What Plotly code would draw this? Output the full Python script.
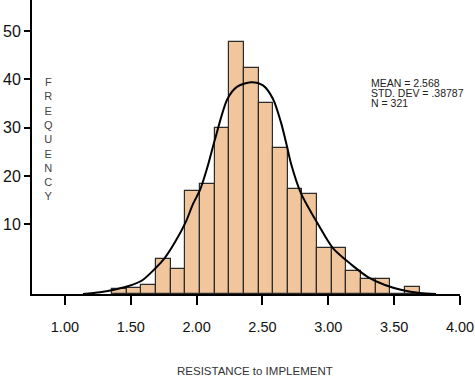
import plotly.graph_objects as go

# ---- data ----
bin_centers = [1.415, 1.526, 1.637, 1.748, 1.859, 1.970, 2.081, 2.193, 2.304, 2.415,
               2.526, 2.637, 2.748, 2.859, 2.970, 3.081, 3.193, 3.304, 3.415, 3.526, 3.637]
bin_counts = [1.0, 1.3, 1.9, 7.2, 5.2, 21.4, 22.7, 34.3, 52.1, 46.8,
              39.5, 30.2, 21.7, 20.7, 9.5, 9.5, 4.8, 3.1, 3.1, 0.0, 1.5]
bin_width = 1 / 9

curve_x = [1.137, 1.266, 1.365, 1.471, 1.585, 1.691, 1.759, 1.835, 1.919, 1.972,
           2.025, 2.079, 2.139, 2.234, 2.306, 2.413, 2.504, 2.580, 2.640, 2.686,
           2.716, 2.792, 2.921, 3.035, 3.180, 3.301, 3.430, 3.559, 3.696, 3.818]
curve_y = [0.0, 0.35, 0.83, 1.55, 2.8, 5.44, 7.5, 10.7, 15.0, 18.6,
           21.5, 26.0, 32.0, 40.4, 42.9, 43.86, 43.2, 40.4, 35.6, 30.6,
           27.1, 20.9, 14.5, 9.5, 5.98, 3.5, 1.86, 0.83, 0.21, 0.0]

x_ticks = [1.0, 1.5, 2.0, 2.5, 3.0, 3.5, 4.0]
y_ticks = [10, 20, 30, 40, 50]

stats_lines = ["MEAN = 2.568", "STD. DEV = .38787", "N = 321"]
y_title = "FREQUENCY"
x_title = "RESISTANCE to IMPLEMENT"

# axis floor (the frequency axis starts below its first labelled tick)
FLOOR = -4.45
Y_TOP = 56.45

FONT = "Liberation Sans, Arial, Helvetica, sans-serif"

fig = go.Figure()
fig.add_trace(go.Bar(
    x=bin_centers, y=bin_counts, width=[bin_width] * len(bin_centers), base=FLOOR,
    marker=dict(color="#F1C69D", line=dict(color="#2b2b2b", width=1.2)),
    hoverinfo="skip", showlegend=False,
))
fig.add_trace(go.Scatter(
    x=curve_x, y=[v + FLOOR for v in curve_y], mode="lines",
    line=dict(color="black", width=2, shape="spline", smoothing=0.8),
    hoverinfo="skip", showlegend=False,
))

fig.update_layout(
    width=475, height=380,
    margin=dict(l=32, r=15, t=0, b=86, autoexpand=False),
    paper_bgcolor="white", plot_bgcolor="white",
    font=dict(family=FONT, color="black"),
    bargap=0,
    xaxis=dict(
        range=[0.75, 4.0], tickvals=x_ticks, tickformat=".2f",
        showgrid=False, zeroline=False,
        showline=True, linecolor="black", linewidth=2,
        ticks="outside", ticklen=9, tickwidth=2, tickcolor="black",
        tickfont=dict(size=14.5, family=FONT, color="#111"),
        ticklabelstandoff=10,
    ),
    yaxis=dict(
        range=[FLOOR, Y_TOP], tickvals=y_ticks,
        showgrid=False, zeroline=False,
        showline=True, linecolor="black", linewidth=2,
        ticks="outside", ticklen=6, tickwidth=2, tickcolor="black",
        tickfont=dict(size=16, family=FONT, color="#111"),
    ),
)

for i, line in enumerate(stats_lines):
    fig.add_annotation(
        xref="paper", yref="paper", x=0.7874, y=[0.7187, 0.6827, 0.6486][i],
        xanchor="left", yanchor="middle", showarrow=False,
        text=line, font=dict(size=10.5, family=FONT, color="#222"),
    )

fig.add_annotation(
    xref="paper", yref="paper", x=0.0374, y=0.526,
    xanchor="center", yanchor="middle", showarrow=False, align="center",
    text="<br>".join(list(y_title)), font=dict(size=11, family=FONT, color="#444"),
)

fig.add_annotation(
    xref="paper", yref="paper", x=0.521, y=-0.261,
    xanchor="center", yanchor="middle", showarrow=False,
    text=x_title, font=dict(size=11.5, family=FONT, color="#333"),
)

fig.write_html(
    "out.html",
    config={"displayModeBar": False},
    post_script="document.body.style.margin='0';document.body.style.overflow='hidden';",
)
